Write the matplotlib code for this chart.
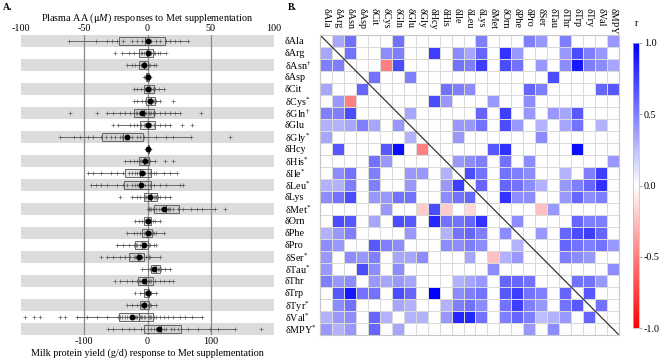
import numpy as np
import matplotlib
matplotlib.use('Agg')
import matplotlib.pyplot as plt
from matplotlib.colors import LinearSegmentedColormap

plt.rcParams['font.family'] = ['Liberation Serif', 'DejaVu Serif']
plt.rcParams['mathtext.fontset'] = 'custom'
plt.rcParams['mathtext.rm'] = 'Liberation Serif'
plt.rcParams['mathtext.it'] = 'Liberation Serif:italic'
plt.rcParams['axes.unicode_minus'] = False
plt.rcParams['font.size'] = 7.3

FS = 7.3

# row labels (panel A right side, panel B rows)
row_labels = ['δAla', 'δArg', r'δAsn$^{\dagger}$', 'δAsp', 'δCit', r'δCys$^{*}$',
              r'δGln$^{\dagger}$', 'δGlu', r'δGly$^{*}$', 'δHcy', r'δHis$^{*}$',
              r'δIle$^{*}$', r'δLeu$^{*}$', 'δLys', r'δMet$^{*}$', 'δOrn', 'δPhe',
              'δPro', r'δSer$^{*}$', r'δTau$^{*}$', 'δThr', 'δTrp', r'δTyr$^{*}$',
              r'δVal$^{*}$', r'δMPY$^{*}$']
col_labels = ['δAla', 'δArg', 'δAsn', 'δAsp', 'δCit', 'δCys', 'δGln', 'δGlu', 'δGly',
              'δHcy', 'δHis', 'δIle', 'δLeu', 'δLys', 'δMet', 'δOrn', 'δPhe', 'δPro',
              'δSer', 'δTau', 'δThr', 'δTrp', 'δTry', 'δVal', 'δMPY']

# panel A: plasma AA responses (uM), one list per amino acid
aa_points = [
    [-62, -41, -32, -28, -24, -19, -12, -8, -4, 0, 3, 7, 10, 15, 18, 22, 26, 32],
    [-26, -20, -15, -11, -7, -5, -4, -3, -1, 0, 1, 2, 3, 5, 6, 8, 10, 15],
    [-16, -12, -10, -7, -5, -4, -3, -2, -1, 0, 1, 2, 5, 7],
    [-3, -2, -1.5, -1, -0.5, 0, 0.5, 1, 1.5, 2],
    [-11, -8, -5, -3, -2, 0, 1, 2, 3, 4, 5, 6, 9, 13],
    [-11, -8, -4, -2, 0, 1, 2, 3, 4, 5, 6, 7, 10, 20],
    [-61, -40, -32, -27, -22, -18, -14, -11, -9, -8, -7, -6, -5, -4, -3, -2, -1, 0, 1,
     2, 3, 4, 5, 6, 10, 14, 18, 22, 26, 42],
    [-27, -23, -14, -11, -8, -5, -3, -2, -1, 0, 0.5, 1, 2, 3, 5, 10, 14, 18, 27, 35],
    [-69, -58, -53, -47, -43, -37, -33, -29, -26, -22, -20, -18, -15, -12, -8, -6, -3,
     7, 15, 20, 34, 65],
    [-1, 0, 0.5, 1, 1.5, 2],
    [-18, -14, -11, -8, -6, -5, -4, -3, -2, -1, 0, 1, 2, 6, 14, 20],
    [-47, -43, -37, -29, -24, -19, -15, -12, -10, -8, -7, -5, -4, -2, 0, 2, 3, 5, 7, 13,
     18, 23],
    [-45, -41, -37, -32, -24, -19, -16, -12, -10, -8, -7, -5, -4, -2, 0, 2, 3, 5, 10, 15,
     26, 28],
    [-22, -12, -8, -6, -2, -1, 0, 2, 3, 5, 6, 7, 8, 10, 14, 18],
    [0, 1, 1.5, 2, 3, 4, 5, 7, 9, 11, 13, 14, 15, 16, 17, 18, 20, 24, 28, 34, 39, 43,
     53, 61],
    [-10, -7, -4, -3, -2, -1, 0, 1, 2, 3, 4, 6, 10],
    [-16, -11, -8, -6, -4, -3, -2, -1, 0, 1, 2, 3, 4, 5, 7, 13],
    [-24, -19, -15, -11, -9, -8, -6, -4, -3, -2, 0, 1, 2, 5, 7],
    [-37, -32, -27, -22, -18, -14, -11, -10, -9, -8, -7, -6, -5, -4, -3, -1, 0, 1, 2, 10],
    [-4, 0, 2, 3, 5, 6, 7, 8, 9, 11, 14, 18],
    [-26, -22, -16, -12, -8, -7, -6, -4, -3, -1, 0, 1, 2, 3, 6, 10, 13, 17, 20],
    [-10, -6, -3, -2, -1, 0, 0.5, 1, 2, 3, 7],
    [-16, -12, -8, -6, -5, -4, -3, -1, 0, 1, 2, 3, 7],
    [-97, -90, -85, -69, -65, -56, -48, -40, -32, -23, -22, -20, -18, -16, -14, -12,
     -10, -9, -8, -6, -5, -4, -3, -2, 0, 1, 2, 3, 5, 7, 10, 13, 16, 20, 26, 30, 35, 43],
]
aa_means = [0, 0, -3, 0, 0.5, 2, -4.5, 0, -16, 0.5, -2, -4.5, -5, 2, 13, 0, 0, -3, -7,
            5, -2.5, 0, -2.5, -12]

# milk protein yield response (g/d)
mpy_points = [-62, -54, -41, -30, -22, -11, -5, 0, 5, 10, 14, 18, 22, 26, 30, 37, 42,
              48, 53, 64, 80, 99, 112, 139, 180]
mpy_mean = 18

# panel B: correlation coefficients (rows x cols)
corr = [
    [0, .35, .55, 0, 0, 0, .55, 0, 0, 0, 0, 0, 0, .5, 0, 0, 0, .5, .4, 0, .5, 0, 0, 0, .4],
    [.35, 0, .55, 0, 0, .45, .5, 0, 0, .75, 0, .45, .35, .6, 0, .8, .4, 0, 0, 0, .4, .7, .5, .4, 0],
    [.5, .5, 0, 0, 0, -.5, .7, 0, 0, 0, 0, .55, .5, .75, 0, .7, .55, 0, .4, 0, .45, .9, .5, .45, .35],
    [0, 0, 0, 0, .55, 0, 0, .5, 0, 0, 0, 0, 0, 0, 0, 0, 0, 0, 0, .7, 0, 0, 0, 0, 0],
    [.35, 0, 0, .6, 0, 0, 0, 0, 0, 0, .55, .5, .45, 0, 0, 0, 0, .6, .5, 0, 0, 0, 0, .6, .65],
    [0, .4, -.5, 0, 0, 0, 0, 0, 0, .7, .4, 0, 0, 0, .4, 0, 0, .45, 0, 0, 0, 0, 0, 0, 0],
    [.5, .5, .7, 0, 0, 0, 0, .35, 0, 0, 0, 0, 0, .6, 0, .75, 0, .4, 0, .4, .35, .65, 0, 0, 0],
    [.3, .3, .35, .5, .35, 0, .4, 0, 0, 0, 0, .4, .4, .55, 0, .7, .4, 0, .3, 0, .35, .55, 0, .3, 0],
    [.35, 0, 0, 0, 0, 0, 0, .3, 0, 0, 0, .4, 0, 0, 0, 0, 0, 0, .45, 0, 0, 0, 0, 0, 0],
    [0, .65, 0, 0, 0, .65, .95, 0, -.5, 0, 0, 0, 0, 0, .65, .8, 0, 0, 0, 0, 0, .95, 0, 0, 0],
    [0, 0, 0, 0, .55, .4, 0, 0, 0, 0, 0, .4, .45, .5, 0, .55, 0, .45, 0, 0, 0, 0, 0, 0, .4],
    [0, .45, .55, 0, .5, 0, 0, .4, .4, 0, .3, 0, .7, .55, 0, .55, .5, .45, 0, 0, .3, 0, .5, .75, 0],
    [.3, .3, .5, 0, .5, 0, 0, .4, 0, 0, .4, .75, 0, .6, 0, .6, .55, .45, .3, 0, .4, .5, .6, .8, 0],
    [.45, .55, .7, 0, .4, .4, .55, .55, 0, 0, .45, .55, .6, 0, 0, .8, .45, .45, 0, 0, .4, .6, .45, .5, 0],
    [0, 0, 0, 0, 0, .4, 0, 0, -.2, .7, -.2, 0, -.15, 0, 0, 0, 0, 0, -.25, .4, 0, 0, 0, 0, 0],
    [0, .7, .65, 0, .35, 0, .7, .65, 0, .85, .55, .55, .6, .8, 0, 0, .45, 0, 0, 0, 0, .6, .5, .5, 0],
    [.3, .4, .5, 0, 0, 0, 0, .4, 0, 0, .3, .55, .6, .5, 0, .45, 0, 0, .4, 0, .6, .7, .75, .6, 0],
    [.45, .4, 0, 0, .65, .5, .45, 0, 0, 0, .45, .45, .5, .45, 0, 0, .3, 0, 0, 0, .6, .55, .5, .55, .4],
    [.4, 0, .45, .4, .5, 0, .35, .35, .45, 0, 0, 0, .35, 0, -.25, .3, .4, 0, 0, 0, .5, .45, .4, 0, 0],
    [.4, 0, 0, .7, .45, 0, .45, 0, 0, 0, 0, 0, 0, 0, .45, 0, 0, 0, 0, 0, 0, 0, 0, 0, .45],
    [.5, .4, .45, 0, .4, .35, .4, .35, 0, 0, 0, .3, .35, .4, 0, .6, .6, .55, 0, 0, 0, .55, .55, .4, 0],
    [0, .65, .9, .55, .55, 0, .7, .6, 0, 1.0, 0, .45, .5, .55, 0, .65, .75, .55, .5, 0, .6, 0, .65, 0, 0],
    [0, .45, .55, 0, 0, 0, .35, .3, 0, 0, .3, .5, .55, .45, 0, .55, .75, .5, .4, 0, .55, .65, 0, .55, 0],
    [.3, .4, .45, 0, .6, .3, 0, .3, .3, 0, .4, .85, .85, .55, 0, .5, .6, .5, .25, .3, .4, 0, .6, 0, 0],
    [.4, .3, .4, 0, .6, 0, .35, 0, 0, 0, 0, 0, 0, 0, 0, 0, 0, .4, 0, .45, 0, 0, 0, 0, 0],
]

W, H = 660, 360
fig = plt.figure(figsize=(6.6, 3.6), dpi=100)

# ---------------- panel A ----------------
ax = fig.add_axes([21 / W, 25 / H, 253 / W, 300 / H])
ax2 = ax.twiny()
n = len(row_labels)
ypos = np.arange(n)

for i in range(0, n, 2):
    ax.axhspan(i - 0.5, i + 0.5, color='#dcdcdc', lw=0, zorder=0)
for xv in (-50, 0, 50):
    ax.axvline(xv, color='#8a8a8a', lw=0.9, zorder=1)

box_kw = dict(widths=0.72, orientation='horizontal', showfliers=False, showcaps=False,
              patch_artist=True,
              boxprops=dict(facecolor='#bbbbbb55', edgecolor='#666666', lw=0.7),
              medianprops=dict(color='#555555', lw=0.8),
              whiskerprops=dict(color='#555555', lw=0.6))

ax.boxplot(aa_points, positions=ypos[:-1], **box_kw)
for i, pts in enumerate(aa_points):
    ax.plot(pts, [i] * len(pts), '+', ms=2.6, mew=0.45, color='#555555', zorder=3)
ax.plot(aa_means, ypos[:-1], 'o', ms=3.2, color='black', zorder=4)

ax2.boxplot([mpy_points], positions=[ypos[-1]], **box_kw)
ax2.plot(mpy_points, [ypos[-1]] * len(mpy_points), '+', ms=2.6, mew=0.45,
         color='#555555', zorder=3)
ax2.plot([mpy_mean], [ypos[-1]], 'o', ms=3.2, color='black', zorder=4)

ax.set_xlim(-100, 100)
ax2.set_xlim(-200, 200)
ax.set_ylim(n - 0.5, -0.5)

ax.xaxis.tick_top()
ax.xaxis.set_label_position('top')
ax.set_xticks([-100, -50, 0, 50, 100])
ax.tick_params(axis='x', length=0, pad=1.5, labelsize=FS)
ax.set_xlabel('Plasma AA (μ$\\it{M}$) responses to Met supplementation', labelpad=2,
              fontsize=FS)

ax2.xaxis.tick_bottom()
ax2.xaxis.set_label_position('bottom')
ax2.set_xticks([-100, 0, 100])
ax2.tick_params(axis='x', length=0, pad=1.5, labelsize=FS)
ax2.set_xlabel('Milk protein yield (g/d) response to Met supplementation', labelpad=2,
               fontsize=FS)

ax.set_yticks(ypos)
ax.set_yticklabels(row_labels)
ax.yaxis.tick_right()
ax.tick_params(axis='y', length=0, pad=8, labelsize=FS)
for a in (ax, ax2):
    for s in a.spines.values():
        s.set_visible(False)

# ---------------- panel B ----------------
hax = fig.add_axes([320 / W, 25 / H, 299 / W, 300 / H])
cmap = LinearSegmentedColormap.from_list('rwb', ['#ff0000', '#ffffff', '#0000ff'])
mesh = hax.pcolormesh(np.array(corr), cmap=cmap, vmin=-1, vmax=1,
                      edgecolors='#dadada', linewidth=0.6)
hax.set_xlim(0, n)
hax.set_ylim(n, 0)
hax.plot([0, n], [0, n], color='#222222', lw=0.8)
hax.set_xticks([])
hax.set_yticks([])
for s in hax.spines.values():
    s.set_color('#c8c8c8')
for c, lab in enumerate(col_labels):
    hax.text(c + 0.5, -2.25, lab, rotation=-90, ha='center', va='top', fontsize=FS)

cax = fig.add_axes([633 / W, 32 / H, 6 / W, 285 / H])
cb = fig.colorbar(mesh, cax=cax, ticks=[-1, -0.5, 0, 0.5, 1])
cb.ax.set_yticklabels(['-1.0', '-0.5', '0.0', '0.5', '1.0'])
cb.ax.tick_params(length=2, width=0.5, pad=1.5, labelsize=FS, color='#888888')
cb.outline.set_edgecolor('#bbbbbb')
cb.outline.set_linewidth(0.5)
fig.text(637 / W, 1 - 23 / H, 'r', ha='center', va='center', fontsize=FS)

fig.text(3 / W, 1 - 7 / H, 'A.', fontweight='bold', va='center', fontsize=7)
fig.text(288 / W, 1 - 7 / H, 'B.', fontweight='bold', va='center', fontsize=7)

fig.savefig('out.png', dpi=100)
